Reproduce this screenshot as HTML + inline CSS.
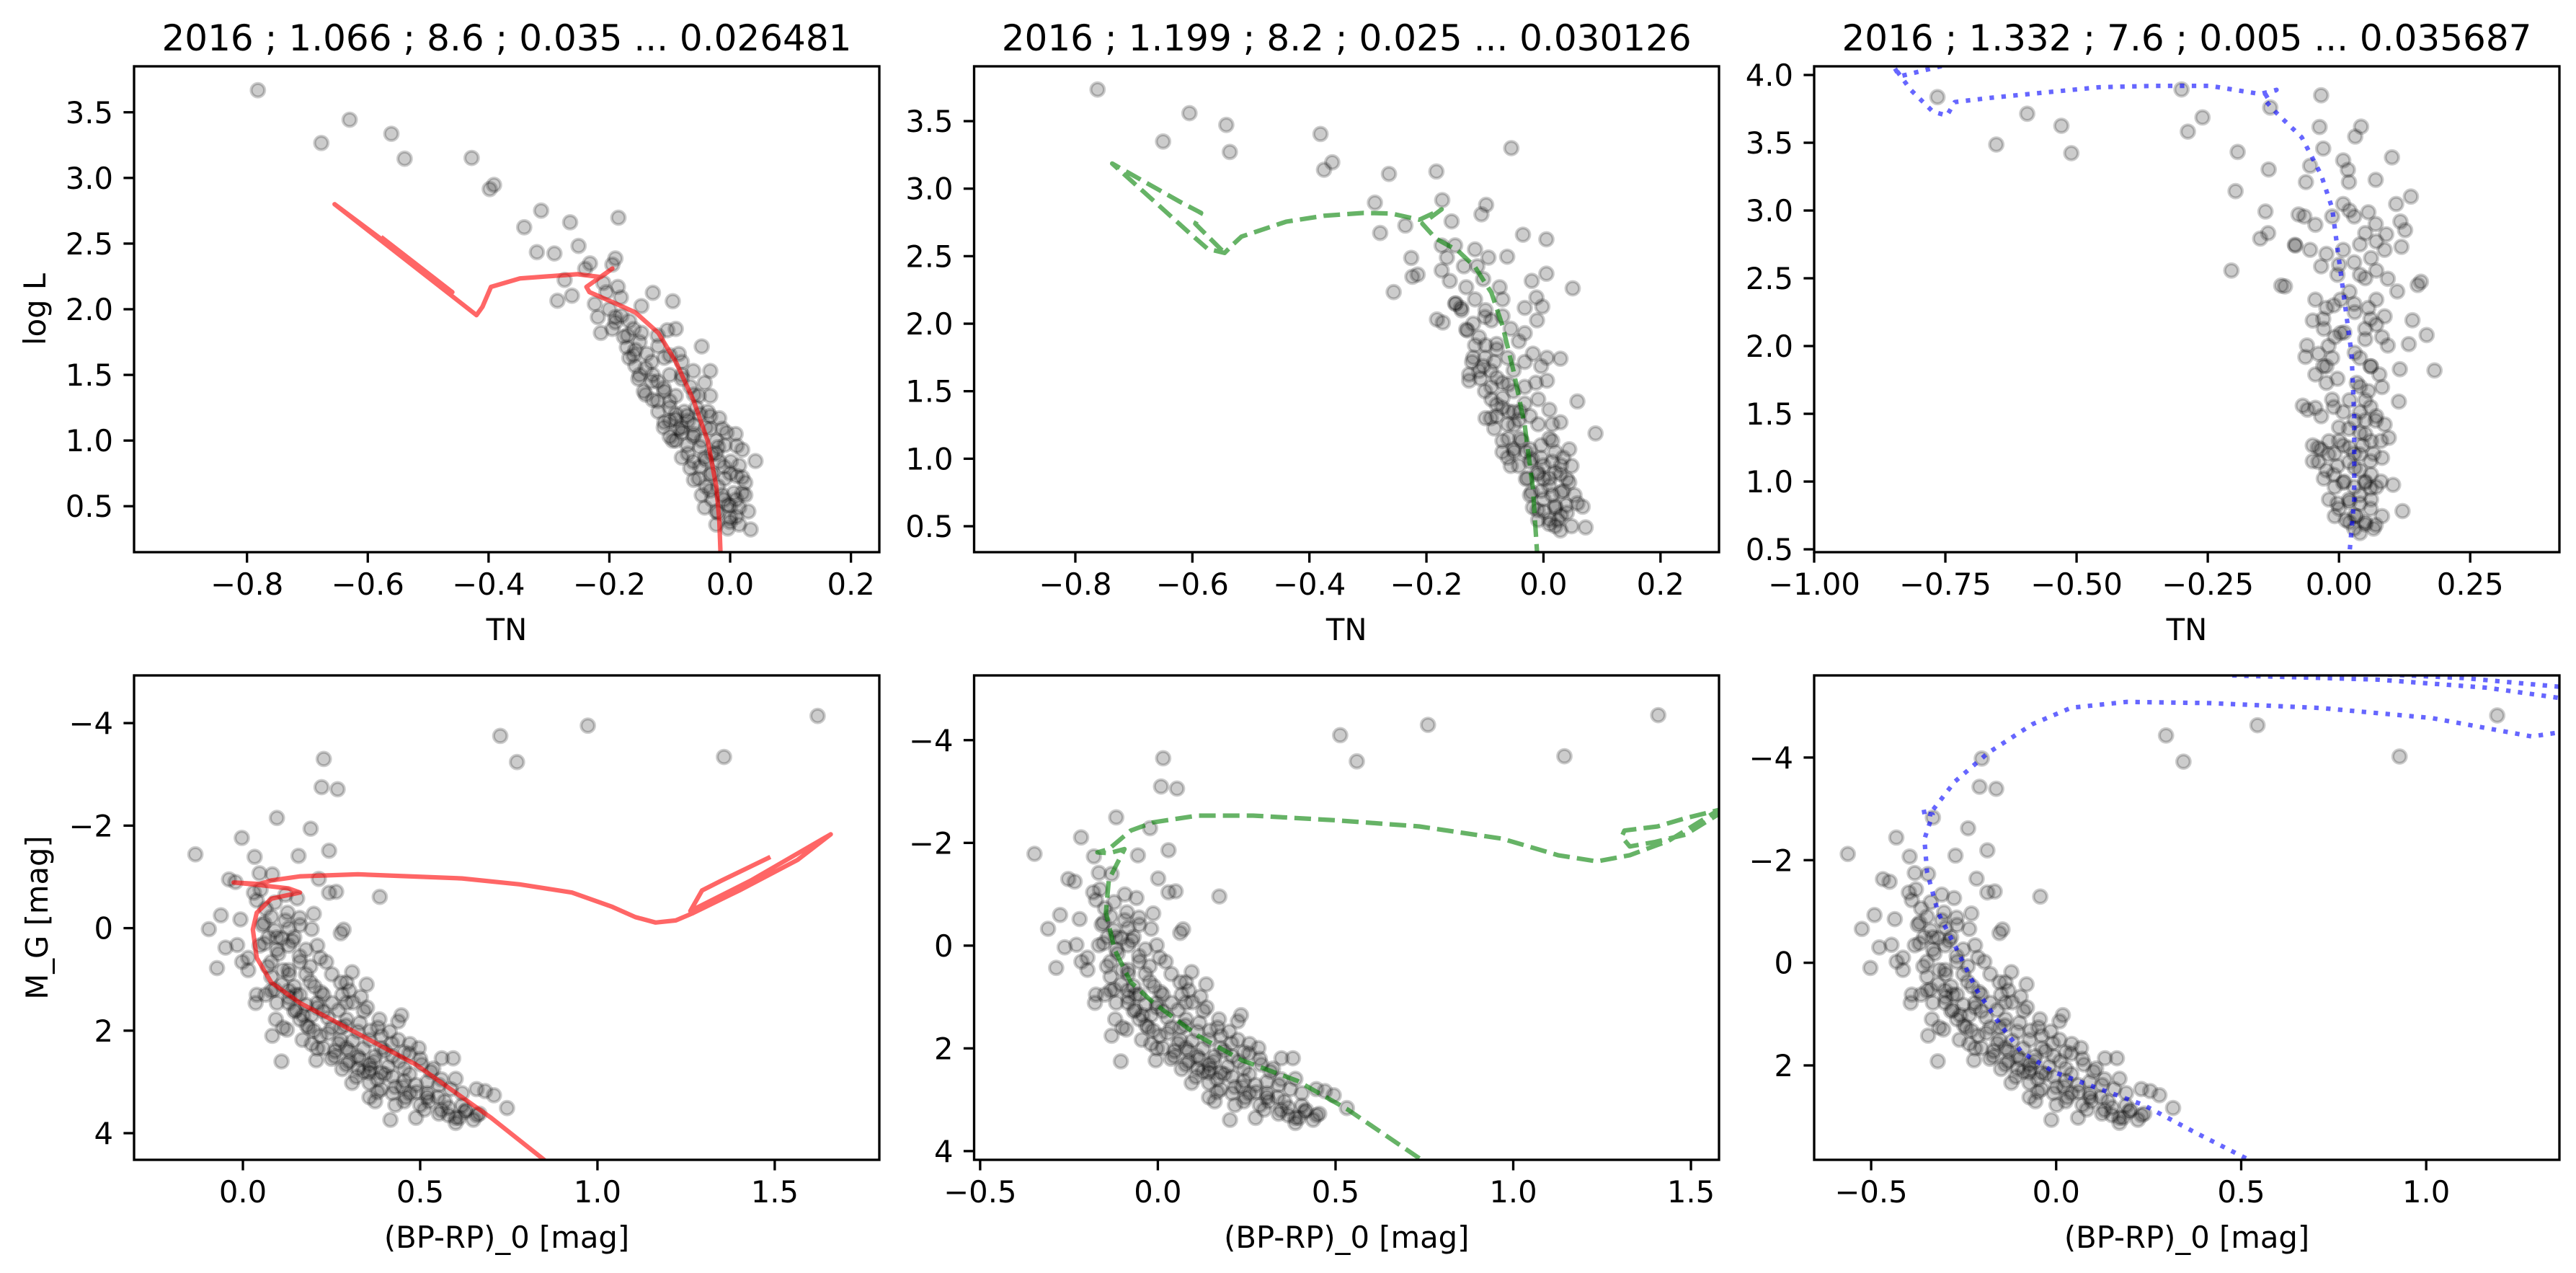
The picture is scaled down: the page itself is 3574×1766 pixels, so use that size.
<!DOCTYPE html>
<html><head><meta charset="utf-8">
<style>
html,body{margin:0;padding:0;background:#fff;}
svg{display:block;font-family:"DejaVu Sans","Liberation Sans",sans-serif;}
</style></head>
<body>
<svg id="fig" width="3574" height="1766" viewBox="0 0 3574 1766" xmlns="http://www.w3.org/2000/svg">
<rect width="3574" height="1766" fill="#fff"/>
</svg>
<script>
// ---------------- DATA ----------------
const tlTN = [-0.782,-0.630,-0.677,-0.561,-0.539,-0.428,-0.398,-0.391,-0.313,-0.341,-0.265,-0.185,-0.320,-0.291,-0.251,-0.274,-0.286,-0.262,-0.232,-0.240,-0.190,-0.195,-0.128,-0.095,-0.147,-0.104,-0.09,-0.047,0.042,0.034,0.009,
-0.224,-0.21,-0.205,-0.186,-0.181,-0.219,-0.214,-0.195,-0.176,-0.19,-0.167,-0.147,-0.157,-0.171,-0.138,-0.119,-0.109,-0.085,-0.080,-0.157,-0.152,-0.128,-0.10,-0.08,-0.143,-0.128,-0.109,-0.09,-0.066,-0.052,-0.033,-0.119,-0.10,-0.076,-0.056,-0.037,-0.109,-0.085,-0.061,-0.033,-0.013,-0.095,-0.071,-0.047,-0.023,-0.009,-0.08,-0.061,-0.042,-0.018,0.001,0.015,-0.066,-0.052,-0.033,-0.009,0.011,0.025,-0.047,-0.033,-0.013,0.006,0.025,-0.042,-0.023,-0.004,0.015,0.03,-0.023,-0.004,0.015,0.0,-0.033,-0.042,-0.061,-0.167,-0.033,-0.018,-0.006,0.011,0.02,-0.023,-0.061,-0.08,-0.1,-0.071,-0.09,
-0.2,-0.18,-0.16,-0.15,-0.13,-0.12,-0.11,-0.1,-0.09,-0.07,-0.06,-0.05,-0.04,-0.03,-0.02,-0.01,0.0,0.01,-0.03,-0.05,-0.07,-0.08,-0.1,-0.12,-0.13,-0.14,-0.16,-0.17,-0.19,-0.12,-0.1,-0.08,-0.06,-0.04,-0.02,0.0,0.02,-0.01,-0.03,-0.05,0.01,-0.02,0.0,0.02,-0.06,-0.04,-0.09,-0.11,-0.14,-0.15];
const tlLogL = [3.668,3.443,3.266,3.336,3.146,3.152,2.915,2.947,2.751,2.624,2.662,2.697,2.435,2.425,2.482,2.223,2.065,2.103,2.349,2.308,2.387,2.34,2.125,2.061,2.024,1.84,1.85,1.717,0.844,0.323,1.05,
2.04,2.20,2.13,2.17,2.09,1.94,1.82,1.85,1.79,1.94,1.91,1.82,1.69,1.71,1.66,1.72,1.63,1.66,1.60,1.57,1.47,1.50,1.50,1.47,1.375,1.31,1.375,1.34,1.41,1.34,1.34,1.22,1.25,1.22,1.25,1.22,1.14,1.09,1.12,1.09,1.09,1.0,0.965,1.0,1.0,0.965,0.87,0.84,0.87,0.84,0.84,0.81,0.79,0.71,0.74,0.71,0.73,0.68,0.585,0.62,0.585,0.60,0.585,0.49,0.46,0.51,0.49,0.46,0.36,0.33,0.36,0.41,1.186,1.44,1.53,1.63,1.53,1.17,1.06,0.96,0.93,0.90,1.03,1.06,1.03,1.19,1.16,
2.0,1.95,1.85,1.75,1.6,1.45,1.4,1.3,1.2,1.15,1.05,0.95,0.85,0.75,0.65,0.55,0.5,0.42,0.55,0.8,0.9,1.1,1.15,1.3,1.45,1.55,1.65,1.8,1.9,1.8,1.65,1.5,1.35,1.1,0.95,0.75,0.6,0.8,0.9,1.2,0.55,0.45,0.38,0.72,0.7,0.65,1.0,1.1,1.35,1.5];

const tmTN = [-0.762,-0.605,-0.542,-0.650,-0.536,-0.381,-0.375,-0.361,-0.264,-0.183,-0.055,-0.288,-0.173,-0.098,-0.106,-0.279,-0.236,-0.157,-0.035,0.005,-0.226,-0.224,-0.215,-0.256,-0.062,0.005,0.050,-0.02,-0.012,-0.032,-0.002,-0.011,-0.182,-0.172,-0.132,0.029,0.089,0.072,0.058,0.044,
-0.174,-0.165,-0.151,-0.136,-0.117,-0.113,-0.094,-0.174,-0.160,-0.132,-0.103,-0.117,-0.151,-0.141,-0.099,-0.075,-0.07,-0.07,-0.089,-0.056,-0.042,-0.032,-0.117,-0.099,-0.08,-0.122,-0.103,-0.084,-0.061,-0.051,-0.032,-0.018,-0.004,0.006,-0.127,-0.108,-0.127,-0.089,-0.07,-0.051,-0.032,-0.013,0.006,-0.089,-0.07,-0.08,-0.051,-0.032,-0.009,0.01,-0.099,-0.084,-0.061,-0.042,-0.023,-0.009,0.015,0.029,-0.07,-0.051,-0.037,-0.023,-0.004,0.015,-0.061,-0.042,-0.056,-0.023,-0.004,0.015,0.034,0.048,-0.027,-0.009,0.01,0.029,0.044,-0.023,-0.004,0.015,0.034,0.053,-0.018,0.001,0.02,0.039,0.058,0.067,-0.009,0.01,0.029,0.025,0.048,
-0.14,-0.12,-0.11,-0.1,-0.09,-0.08,-0.1,-0.07,-0.06,-0.08,-0.05,-0.04,-0.03,-0.02,-0.01,0.0,0.01,0.0,0.02,0.01,0.03,-0.01,0.02,0.03,-0.03,-0.02,-0.05,-0.06,-0.09,-0.11,-0.12,-0.13,-0.15,-0.1,-0.08,-0.06,0.02,0.01,0.03,0.04,-0.04,-0.07,0.0,0.02,0.04];
const tmLogL = [3.734,3.559,3.472,3.349,3.272,3.405,3.14,3.195,3.109,3.127,3.30,2.896,2.915,2.88,2.81,2.672,2.727,2.758,2.659,2.625,2.487,2.348,2.364,2.234,2.496,2.37,2.262,2.317,2.194,2.117,2.127,2.025,2.031,2.009,1.957,1.741,1.187,0.491,1.424,1.07,
2.579,2.49,2.58,2.425,2.55,2.425,2.49,2.394,2.317,2.27,2.33,2.18,2.148,2.117,2.10,2.27,2.18,2.056,2.025,1.963,1.87,1.93,1.84,1.84,1.81,1.717,1.686,1.717,1.748,1.655,1.717,1.778,1.686,1.748,1.624,1.594,1.578,1.532,1.563,1.50,1.532,1.563,1.578,1.44,1.378,1.316,1.347,1.409,1.44,1.363,1.30,1.224,1.255,1.286,1.316,1.255,1.255,1.27,1.132,1.07,1.132,1.07,1.10,1.132,1.008,0.947,0.947,0.978,1.008,0.978,1.008,0.947,0.855,0.885,0.855,0.885,0.824,0.731,0.762,0.731,0.762,0.731,0.639,0.608,0.639,0.654,0.67,0.645,0.546,0.516,0.469,0.546,0.50,
2.1,2.0,1.9,1.75,1.65,1.6,1.5,1.45,1.35,1.4,1.25,1.15,1.05,1.0,0.9,0.85,0.8,0.7,0.65,0.55,0.58,0.62,0.9,0.75,0.85,0.75,1.05,1.15,1.3,1.65,1.75,1.95,2.15,2.05,1.85,1.55,1.05,1.15,0.95,0.85,1.35,1.05,0.95,0.5,0.6];

const trTN = [-0.765,-0.594,-0.529,-0.653,-0.510,-0.300,-0.260,-0.288,-0.193,-0.131,-0.034,-0.134,-0.197,-0.14,-0.135,-0.150,-0.205,-0.103,-0.110,-0.084,-0.037,0.042,0.031,-0.03,0.101,0.07,0.137,0.109,0.117,0.126,0.09,0.119,0.156,0.15,0.111,0.14,0.167,0.182,0.133,0.116,0.114,0.103,0.121,0.095,-0.064,-0.069,-0.06,-0.083,-0.077,-0.063,-0.055,0.008,0.017,0.019,
-0.066,-0.045,-0.013,0.008,0.029,0.056,0.05,0.071,-0.055,-0.024,0.008,0.029,0.061,0.087,-0.034,-0.003,0.04,0.071,0.093,-0.045,-0.024,0.003,0.029,0.056,0.071,0.087,-0.050,-0.029,-0.008,0.003,0.05,0.071,0.082,0.093,-0.061,-0.039,-0.024,-0.013,0.04,0.061,0.077,-0.045,-0.024,-0.003,0.034,0.056,0.082,-0.045,-0.034,-0.013,0.008,0.04,0.05,0.071,0.087,0.019,0.04,0.061,-0.050,-0.034,-0.019,-0.008,0.008,0.029,0.045,0.066,0.082,-0.039,-0.024,-0.003,0.019,0.04,0.061,-0.029,-0.008,0.008,0.029,0.05,0.071,-0.019,-0.003,0.019,0.04,0.061,-0.008,0.013,0.034,0.05,0.066,0.029,0.082,
0.0,0.02,0.04,-0.02,0.06,0.03,0.05,0.01,0.04,0.06,0.03,0.05,0.07,0.02,-0.01,0.0,0.03,0.05,0.06,0.02,0.04,0.06,0.03,0.05,0.01,0.03,0.06,-0.02,-0.03,-0.04,-0.05,0.08,0.07,0.08,0.0,0.02,0.04,0.06,-0.01,0.05,0.02,0.05,0.0,0.04,0.07,0.02,-0.03,-0.01];
const trLogL = [3.837,3.714,3.625,3.487,3.423,3.893,3.687,3.582,3.432,3.76,3.85,3.303,3.143,2.993,2.833,2.793,2.557,2.44,2.446,2.747,3.616,3.619,3.546,3.457,3.392,3.226,3.103,3.048,2.919,2.855,2.824,2.732,2.474,2.45,2.403,2.19,2.081,1.82,2.014,1.829,1.59,0.976,0.782,1.323,1.92,1.56,1.53,2.741,2.971,3.21,3.33,3.37,3.30,3.21,
2.956,2.895,2.956,3.048,2.956,2.987,2.833,2.772,2.71,2.68,2.71,2.618,2.649,2.71,2.588,2.526,2.526,2.557,2.496,2.342,2.281,2.342,2.311,2.281,2.342,2.219,2.188,2.127,2.066,2.096,2.127,2.158,2.066,2.004,2.004,1.943,1.851,1.912,1.912,1.851,1.79,1.79,1.728,1.759,1.728,1.667,1.697,1.544,1.482,1.605,1.513,1.513,1.452,1.482,1.421,1.39,1.36,1.298,1.267,1.237,1.298,1.206,1.267,1.206,1.267,1.206,1.175,1.145,1.083,1.114,1.145,1.083,1.053,1.022,0.96,0.991,0.96,0.991,0.96,0.868,0.838,0.868,0.838,0.868,0.745,0.715,0.745,0.684,0.653,0.653,0.745,
1.3,1.25,1.2,1.2,1.15,1.1,1.0,1.0,0.9,0.8,0.75,0.7,0.68,0.85,1.05,1.4,1.45,1.35,1.55,1.6,1.7,1.85,1.95,2.05,2.1,2.25,2.2,2.0,1.85,1.25,1.15,1.3,1.45,1.0,0.8,0.7,0.62,0.95,1.55,1.6,2.4,2.5,2.6,2.75,2.9,3.0,2.2,2.3];

const bpColor = [-0.134,-0.096,-0.073,-0.062,-0.049,-0.039,-0.021,-0.016,-0.007,-0.003,-0.002,0.015,0.033,0.036,0.047,0.083,0.096,0.157,0.191,0.20,0.214,0.222,0.228,0.243,0.243,0.263,0.267,0.284,0.276,0.386,0.726,0.773,0.973,1.357,1.621,0.109,0.083,0.093,0.124,0.168,0.207,0.416,0.488,0.553,0.593,0.561,0.60,0.65,0.745,0.708,0.659,0.683,0.60,0.618,0.373,0.357,0.308,0.447,0.438,0.385,0.349,0.308,0.292,0.333,0.292,0.276,0.235,0.21,0.194,0.161,0.145,0.129,0.126,0.153,0.08,0.064,0.039,0.031,0.055,0.072,0.096,0.047,0.015,0.039,0.08,0.096,0.129,0.145,0.129,0.161,0.178,0.202,0.227,0.251,0.227,0.194,0.161,0.186,0.218,0.251,0.276,0.227,0.259,0.292,0.324,0.357,0.324,0.39,0.422,0.455,0.488,0.455,0.422,0.39,0.357,0.324,0.455,0.496,0.504,0.52,0.553,0.569,0.422,0.39,0.357,0.455,0.512,0.626,0.667,0.618,0.586,0.292,0.276,0.341,0.30,0.21,0.161,0.113,0.096,0.178,0.251,0.218,0.08,0.129,0.178,0.194,0.145,0.064,0.113,0.292,0.373,0.471,0.438,0.414,0.381,0.357,0.537,0.471,0.525,
0.06,0.09,0.12,0.14,0.10,0.07,0.13,0.16,0.19,0.11,0.15,0.19,0.22,0.17,0.21,0.24,0.27,0.2,0.24,0.27,0.31,0.29,0.33,0.26,0.3,0.34,0.37,0.34,0.38,0.41,0.44,0.40,0.43,0.47,0.49,0.46,0.52,0.55,0.58,0.61,0.63,0.60,0.58,0.66,0.56,0.50,0.43,0.38,0.32,0.28,0.25,0.21,0.18,0.15,0.13,0.09,0.08,0.06,0.11,0.13,0.16,0.09,0.05,0.12,0.28,0.31,0.35,0.36,0.39,0.42,0.47,0.50,0.53,0.56,0.52,0.45,0.40,0.36,0.33,0.30];
const mG = [-1.44,0.02,0.78,-0.25,0.38,-0.95,-0.90,0.33,-0.17,-1.76,0.66,0.82,-1.39,1.46,-1.07,-1.05,-2.15,-1.41,-1.94,-0.28,-0.96,-2.75,-3.30,-1.51,-0.69,-0.71,-2.71,0.03,0.10,-0.61,-3.75,-3.24,-3.95,-3.34,-4.14,2.60,2.10,1.78,1.98,2.18,2.58,3.74,3.70,3.62,2.54,2.54,3.70,3.74,3.51,3.26,3.14,3.18,2.94,3.46,3.38,3.02,3.02,1.70,1.82,1.78,1.10,0.86,1.06,1.34,1.46,1.06,0.66,0.34,0.02,-0.06,0.18,0.34,-0.30,-0.58,-0.22,-0.38,-0.54,-0.69,-0.06,0.18,0.42,0.34,0.58,1.30,1.22,1.46,1.46,1.14,0.82,0.66,0.90,1.14,1.30,1.46,1.62,1.70,1.78,1.94,2.10,1.94,2.18,2.34,2.50,2.34,2.50,2.66,2.74,2.82,2.90,2.98,3.06,2.74,2.50,2.34,2.18,2.02,2.42,2.34,2.66,3.22,3.06,3.38,3.22,3.14,3.30,3.38,3.54,3.58,3.62,3.22,3.14,1.78,1.94,1.62,1.22,1.46,1.30,0.82,0.18,0.42,0.90,0.58,0.66,1.22,1.50,2.26,1.62,1.30,1.94,2.66,2.50,2.26,2.18,2.02,1.94,2.82,2.74,3.22,3.38,
-0.1,0.05,-0.15,0.25,0.5,0.75,0.9,0.55,0.75,1.1,1.3,1.05,1.25,1.7,1.55,1.75,1.6,2.0,2.05,2.25,2.2,1.9,1.85,2.4,2.6,2.35,2.6,2.8,2.95,2.7,2.6,2.4,3.1,2.85,3.2,3.3,3.0,3.3,3.5,3.7,3.55,3.8,3.65,3.65,3.55,3.45,3.45,3.2,2.9,2.75,2.55,2.35,1.9,1.6,1.35,1.2,0.95,0.3,0.2,0.0,-0.2,-0.5,-0.75,-0.65,1.3,1.45,1.55,2.0,2.1,2.25,2.45,2.55,2.8,2.95,3.3,3.1,2.85,2.75,2.55,2.4];
const colorExcess = [0, 0.213, 0.429];
const magExtinction = [0, 0.347, 0.68];

const iso1x = [-0.016,-0.018,-0.023,-0.037,-0.061,-0.09,-0.119,-0.157,-0.195,-0.233,-0.238,-0.195,-0.214,-0.253,-0.348,-0.396,-0.41,-0.42,-0.655,-0.46,-0.575];
const iso1y = [0.15,0.40,0.65,0.996,1.31,1.60,1.82,1.976,2.055,2.13,2.17,2.31,2.245,2.267,2.235,2.17,2.02,1.955,2.80,2.13,2.54];
const iso2x = [-0.010,-0.018,-0.032,-0.051,-0.07,-0.089,-0.117,-0.146,-0.184,-0.207,-0.174,-0.212,-0.26,-0.307,-0.374,-0.44,-0.516,-0.531,-0.545,-0.574,-0.602,-0.737,-0.62,-0.585,-0.595,-0.545];
const iso2y = [0.245,0.78,1.245,1.647,1.985,2.23,2.42,2.54,2.63,2.74,2.847,2.77,2.816,2.82,2.80,2.755,2.645,2.585,2.524,2.555,2.66,3.186,2.90,2.82,2.74,2.524];
const iso3x = [0.0207,0.029,0.029,0.024,0.008,-0.0025,-0.013,-0.034,-0.071,-0.119,-0.145,-0.119,-0.15,-0.246,-0.351,-0.457,-0.563,-0.668,-0.732,-0.747,-0.774,-0.816,-0.848,-0.837,-0.753];
const iso3y = [0.5,0.868,1.48,1.943,2.404,2.71,3.017,3.263,3.54,3.72,3.83,3.89,3.86,3.92,3.92,3.91,3.87,3.83,3.80,3.70,3.73,3.89,4.06,3.99,4.07];
const iso4x = [0.846,0.70,0.4875,0.292,0.161,0.08,0.039,0.028,0.039,0.08,0.161,0.129,0.047,-0.026,0.047,0.08,0.16,0.324,0.618,0.78,0.928,1.042,1.107,1.164,1.221,1.27,1.40,1.564,1.658,1.433,1.262,1.295,1.352,1.482];
const iso4y = [4.50,3.70,2.66,1.94,1.46,1.06,0.58,0.024,-0.30,-0.575,-0.695,-0.775,-0.84,-0.89,-0.86,-0.93,-1.01,-1.05,-0.97,-0.855,-0.695,-0.415,-0.215,-0.11,-0.15,-0.295,-0.735,-1.33,-1.83,-0.93,-0.335,-0.735,-0.935,-1.37];
const iso5x = [0.736,0.533,0.392,0.236,0.112,-0.013,-0.076,-0.122,-0.146,-0.138,-0.094,-0.138,-0.17,-0.138,-0.076,-0.013,0.112,0.268,0.502,0.736,0.97,1.126,1.235,1.328,1.437,1.578,1.484,1.406,1.313,1.305,1.328,1.40,1.484,1.578];
const iso5y = [4.14,3.185,2.63,2.23,1.75,1.11,0.713,0.075,-0.643,-1.28,-1.88,-1.80,-1.815,-1.88,-2.24,-2.40,-2.53,-2.53,-2.44,-2.32,-2.08,-1.76,-1.64,-1.76,-2.04,-2.64,-2.48,-2.32,-2.24,-2.12,-1.93,-2.02,-2.16,-2.56];
const iso6x = [0.513,0.371,0.236,0.116,-0.004,-0.094,-0.154,-0.214,-0.274,-0.319,-0.349,-0.356,-0.334,-0.364,-0.334,-0.274,-0.184,-0.064,0.041,0.191,0.416,0.715,1.015,1.165,1.285,1.36];
const iso6y = [3.81,3.29,2.77,2.455,2.136,1.737,1.18,0.54,-0.338,-0.976,-1.774,-2.41,-2.89,-2.93,-2.97,-3.53,-4.09,-4.65,-4.97,-5.085,-5.06,-4.965,-4.77,-4.57,-4.41,-4.49];
const iso6bx = [0.476,0.865,1.165,1.36];
const iso6by = [-5.60,-5.52,-5.36,-5.16];
const iso6cx = [0.80,1.10,1.36];
const iso6cy = [-5.65,-5.55,-5.38];

const titles = ["2016 ; 1.066 ; 8.6 ; 0.035 ... 0.026481","2016 ; 1.199 ; 8.2 ; 0.025 ... 0.030126","2016 ; 1.332 ; 7.6 ; 0.005 ... 0.035687"];
const xTicksTop = [[-0.8,-0.6,-0.4,-0.2,0.0,0.2],[-0.8,-0.6,-0.4,-0.2,0.0,0.2],[-1.0,-0.75,-0.5,-0.25,0.0,0.25]];
const xTickLabelsTop = [["−0.8","−0.6","−0.4","−0.2","0.0","0.2"],["−0.8","−0.6","−0.4","−0.2","0.0","0.2"],["−1.00","−0.75","−0.50","−0.25","0.00","0.25"]];
const yTicksTop = [[0.5,1.0,1.5,2.0,2.5,3.0,3.5],[0.5,1.0,1.5,2.0,2.5,3.0,3.5],[0.5,1.0,1.5,2.0,2.5,3.0,3.5,4.0]];
const yTickLabelsTop = [["0.5","1.0","1.5","2.0","2.5","3.0","3.5"],["0.5","1.0","1.5","2.0","2.5","3.0","3.5"],["0.5","1.0","1.5","2.0","2.5","3.0","3.5","4.0"]];
const xTicksBot = [[0.0,0.5,1.0,1.5],[-0.5,0.0,0.5,1.0,1.5],[-0.5,0.0,0.5,1.0]];
const xTickLabelsBot = [["0.0","0.5","1.0","1.5"],["−0.5","0.0","0.5","1.0","1.5"],["−0.5","0.0","0.5","1.0"]];
const yTicksBot = [[-4,-2,0,2,4],[-4,-2,0,2,4],[-4,-2,0,2]];
const yTickLabelsBot = [["−4","−2","0","2","4"],["−4","−2","0","2","4"],["−4","−2","0","2"]];

// ---------------- LAYOUT ----------------
const NS = "http://www.w3.org/2000/svg";
const svg = document.getElementById('fig');
const boxes = [
  {x0:186,x1:1220,y0:92,y1:766, xd:[-0.987,0.247], yd:[0.15,3.85]},
  {x0:1351.5,x1:2385,y0:92,y1:766, xd:[-0.973,0.300], yd:[0.308,3.906]},
  {x0:2517,x1:3551,y0:92,y1:766, xd:[-1.0,0.42], yd:[0.479,4.064]},
  {x0:186,x1:1220,y0:937,y1:1609, xd:[-0.307,1.795], yd:[4.52,-4.93]},
  {x0:1351.5,x1:2385,y0:937,y1:1609, xd:[-0.517,1.579], yd:[4.17,-5.26]},
  {x0:2517,x1:3551,y0:937,y1:1609, xd:[-0.654,1.36], yd:[3.84,-5.6]}
];
const colors = ['#ff0000','#008000','#0000ff'];
const dashes = [null,'23.1,10','6.25,10.3'];

function mk(tag, attrs, parent){
  const e = document.createElementNS(NS, tag);
  for (const k in attrs) e.setAttribute(k, attrs[k]);
  (parent||svg).appendChild(e);
  return e;
}
function sx(b,v){ return b.x0 + (v-b.xd[0])/(b.xd[1]-b.xd[0])*(b.x1-b.x0); }
function sy(b,v){ return b.y1 - (v-b.yd[0])/(b.yd[1]-b.yd[0])*(b.y1-b.y0); }

const defs = mk('defs',{});
function panel(i, xs, ys, lines, xt, xtl, yt, ytl, xlabel, ylabel, title){
  const b = boxes[i];
  const g = mk('g',{});
  
  
  const cp = mk('clipPath',{id:'clip'+i}, defs);
  mk('rect',{x:b.x0,y:b.y0,width:b.x1-b.x0,height:b.y1-b.y0},cp);
  const plot = mk('g',{'clip-path':'url(#clip'+i+')'},g);
  
  
  const pts = mk('g',{fill:'#000','fill-opacity':'0.2',stroke:'#000','stroke-opacity':'0.2','stroke-width':'4.2'},plot);
  
  
  for (let k=0;k<xs.length;k++){
    const c = mk('circle',{cx:sx(b,xs[k]).toFixed(1),cy:sy(b,ys[k]).toFixed(1),r:'9.3'},pts);
    
    
  }
  const col = colors[i%3], da = dashes[i%3];
  lines.forEach(function(L){
    let d='';
    for (let k=0;k<L[0].length;k++) d += (k?'L':'M') + sx(b,L[0][k]).toFixed(1)+','+sy(b,L[1][k]).toFixed(1);
    const p = mk('path',{d:d,fill:'none',stroke:col,'stroke-opacity':'0.6','stroke-width':'6.25','stroke-linejoin':'round','stroke-linecap':da?'butt':'square'},plot);
    if (da) p.setAttribute('stroke-dasharray',da);
    
    
  });
  const fr = mk('rect',{x:b.x0,y:b.y0,width:b.x1-b.x0,height:b.y1-b.y0,fill:'none',stroke:'#000','stroke-width':'3.33'},g);
  
  
  for (let k=0;k<xt.length;k++){
    const x = sx(b,xt[k]);
    const t = mk('line',{x1:x,x2:x,y1:b.y1,y2:b.y1+14.6,stroke:'#000','stroke-width':'3.33'},g);
    
    
    const tx = mk('text',{x:x,y:b.y1+59,'font-size':'41.7','text-anchor':'middle',fill:'#000'},g);
    tx.textContent = xtl[k];
    
    
  }
  for (let k=0;k<yt.length;k++){
    const y = sy(b,yt[k]);
    const t = mk('line',{x1:b.x0-14.6,x2:b.x0,y1:y,y2:y,stroke:'#000','stroke-width':'3.33'},g);
    
    
    const ty = mk('text',{x:b.x0-29,y:y+15,'font-size':'41.7','text-anchor':'end',fill:'#000'},g);
    ty.textContent = ytl[k];
    
    
  }
  const cx = (b.x0+b.x1)/2;
  const xl = mk('text',{x:cx,y:b.y1+122,'font-size':'41.7','text-anchor':'middle',fill:'#000'},g);
  xl.textContent = xlabel;
  
  
  if (ylabel){
    const cy = (b.y0+b.y1)/2;
    const lx = (i<3)?63:66;
    const yl = mk('text',{x:lx,y:cy,'font-size':'41.7','text-anchor':'middle',fill:'#000',transform:'rotate(-90 '+lx+' '+cy+')'},g);
    yl.textContent = ylabel;
    
    
  }
  if (title){
    const tt = mk('text',{x:cx,y:b.y0-22,'font-size':'50','text-anchor':'middle',fill:'#000'},g);
    tt.textContent = title;
    
    
  }
}

panel(0, tlTN, tlLogL, [[iso1x,iso1y]], xTicksTop[0], xTickLabelsTop[0], yTicksTop[0], yTickLabelsTop[0], 'TN', 'log L', titles[0]);
panel(1, tmTN, tmLogL, [[iso2x,iso2y]], xTicksTop[1], xTickLabelsTop[1], yTicksTop[1], yTickLabelsTop[1], 'TN', null, titles[1]);
panel(2, trTN, trLogL, [[iso3x,iso3y]], xTicksTop[2], xTickLabelsTop[2], yTicksTop[2], yTickLabelsTop[2], 'TN', null, titles[2]);
const botIso = [[[iso4x,iso4y]],[[iso5x,iso5y]],[[iso6x,iso6y],[iso6bx,iso6by],[iso6cx,iso6cy]]];
for (let p=0;p<3;p++){
  const cx0 = bpColor.map(function(v){return v - colorExcess[p];});
  const my0 = mG.map(function(v){return v - magExtinction[p];});
  panel(3+p, cx0, my0, botIso[p], xTicksBot[p], xTickLabelsBot[p], yTicksBot[p], yTickLabelsBot[p], '(BP-RP)_0 [mag]', p===0?'M_G [mag]':null, null);
}
</script>
</body></html>
